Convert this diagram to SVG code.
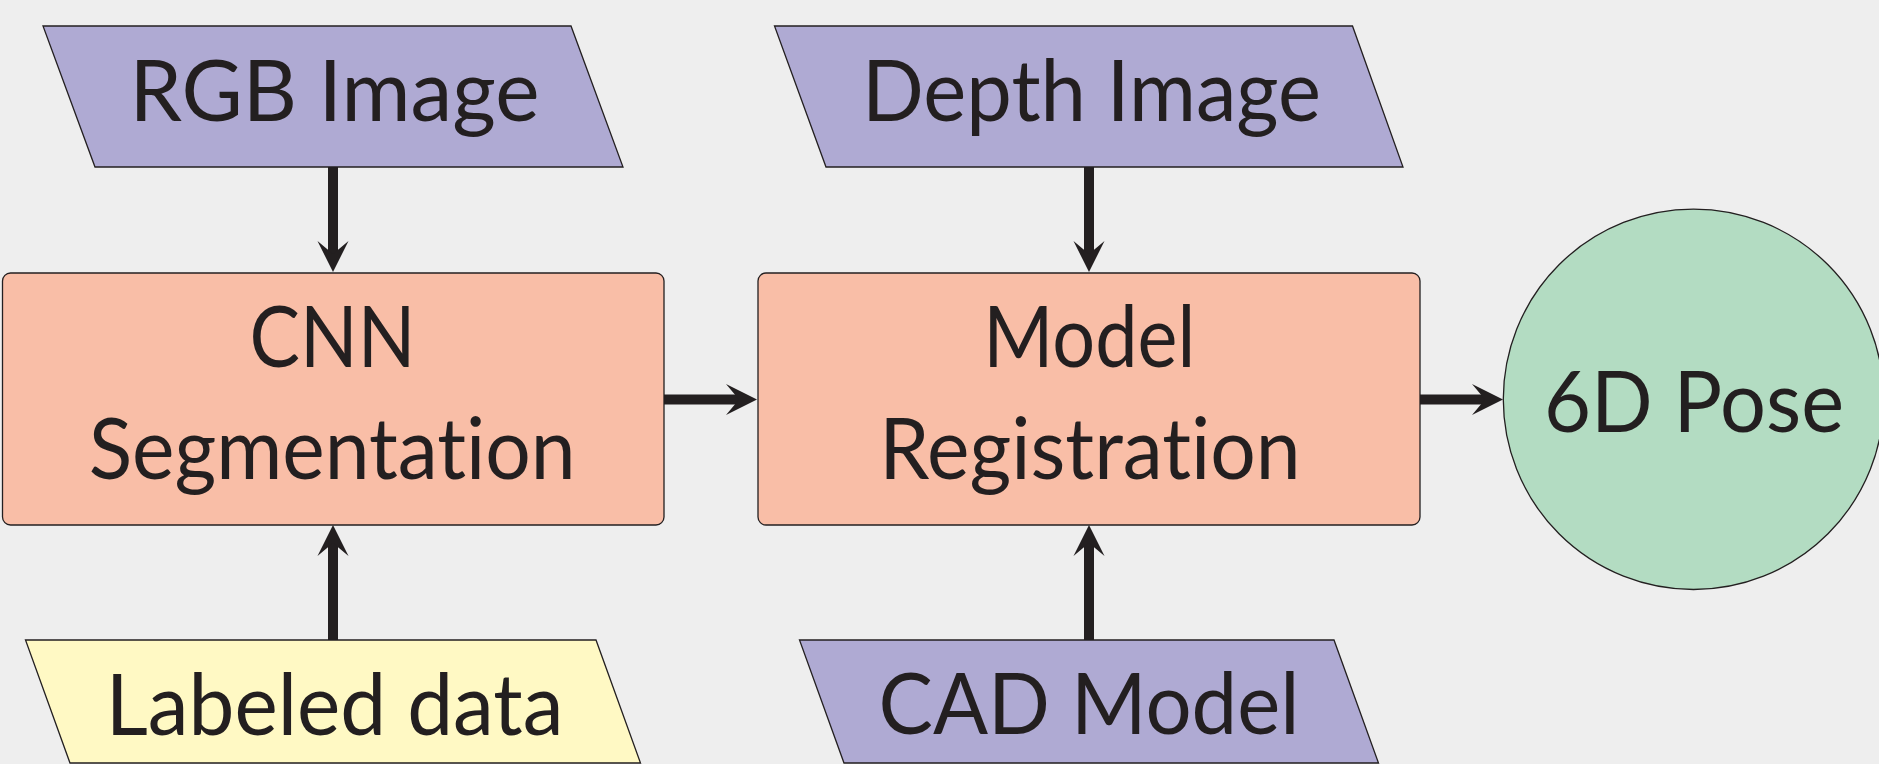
<svg xmlns="http://www.w3.org/2000/svg" width="1879" height="764" viewBox="0 0 1879 764">
  <style>
    .bg { fill: #eeeeee; }
    .io { fill: #afaad3; stroke: #231f20; stroke-width: 1.3; }
    .data { fill: #fff9c4; stroke: #231f20; stroke-width: 1.3; }
    .proc { fill: #f9bea7; stroke: #231f20; stroke-width: 1.3; }
    .out { fill: #b3dcc2; stroke: #231f20; stroke-width: 1.3; }
    .lbl { font-family: Lato, "Liberation Sans", sans-serif; font-size: 86px; fill: #231f20; font-variant-ligatures: none; font-feature-settings: "liga" 0, "clig" 0; }
    .conn { stroke: #231f20; stroke-width: 10; fill: none; }
    .head { fill: #231f20; }
  </style>
  <defs>
    <marker id="arrow" markerUnits="userSpaceOnUse" markerWidth="40" markerHeight="40" viewBox="-35 -20 40 40" refX="-18" refY="0" orient="auto" overflow="visible">
      <path class="head" d="M0,0 L-31,-15.5 L-18,0 L-31,15.5 Z"/>
    </marker>
  </defs>
  <rect class="bg" x="0" y="0" width="1879" height="764"/>

  <g id="connectors">
    <path class="conn" d="M333,167 V254" marker-end="url(#arrow)"/>
    <path class="conn" d="M1089,167 V254" marker-end="url(#arrow)"/>
    <path class="conn" d="M333,640 V543" marker-end="url(#arrow)"/>
    <path class="conn" d="M1089,640 V543" marker-end="url(#arrow)"/>
    <path class="conn" d="M664,399.5 H739" marker-end="url(#arrow)"/>
    <path class="conn" d="M1420,399.5 H1485" marker-end="url(#arrow)"/>
  </g>

  <g id="rgb-image">
    <polygon class="io" points="43,26 571,26 623,167 95,167"/>
    <text class="lbl" x="129.5" y="121" textLength="410" lengthAdjust="spacingAndGlyphs">RGB Image</text>
  </g>

  <g id="depth-image">
    <polygon class="io" points="774.5,26 1352.5,26 1403,167 826,167"/>
    <text class="lbl" x="862" y="121" textLength="459" lengthAdjust="spacingAndGlyphs">Depth Image</text>
  </g>

  <g id="cnn-segmentation">
    <rect class="proc" x="2.5" y="273" width="661.5" height="252" rx="8" ry="8"/>
    <text class="lbl" x="249.6" y="367" textLength="166" lengthAdjust="spacingAndGlyphs">CNN</text>
    <text class="lbl" x="88.7" y="479" textLength="487" lengthAdjust="spacingAndGlyphs">Segmentation</text>
  </g>

  <g id="model-registration">
    <rect class="proc" x="758" y="273" width="662" height="252" rx="8" ry="8"/>
    <text class="lbl" x="983.3" y="367" textLength="212" lengthAdjust="spacingAndGlyphs">Model</text>
    <text class="lbl" x="879.3" y="479" textLength="421.4" lengthAdjust="spacingAndGlyphs">Registration</text>
  </g>

  <g id="labeled-data">
    <polygon class="data" points="25.5,640 596,640 640.5,763 70,763"/>
    <text class="lbl" x="105.8" y="735" textLength="457.6" lengthAdjust="spacingAndGlyphs">Labeled data</text>
  </g>

  <g id="cad-model">
    <polygon class="io" points="799.5,640 1334,640 1378.5,763 844,763"/>
    <text class="lbl" x="878.5" y="734" textLength="421" lengthAdjust="spacingAndGlyphs">CAD Model</text>
  </g>

  <g id="pose-6d">
    <circle class="out" cx="1693.5" cy="399.3" r="190.2"/>
    <text class="lbl" x="1544" y="432" textLength="300" lengthAdjust="spacingAndGlyphs">6D Pose</text>
  </g>
</svg>
